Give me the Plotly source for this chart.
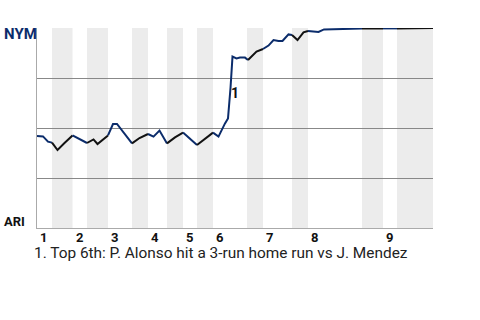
import plotly.graph_objects as go
import bisect

# Half-inning boundaries on the event axis (top halves even index, bottom halves odd)
half_bounds = [0, 3, 7.1, 10, 14.2, 19, 22.2, 26, 29.2, 32, 35.2, 42, 45.2, 51, 54.2, 65, 69.2, 72, 79.2]
inning_labels = ["1", "2", "3", "4", "5", "6", "7", "8", "9"]

# Win probability for NYM (%), event positions
event_x = [0, 1.2, 2.2, 3, 4.1, 5.5, 7.1, 8.5, 10, 11.3, 12.1, 14.2, 15.2, 16, 19,
           20.5, 22.2, 23.3, 24.5, 26, 27.6, 29.2, 30.6, 32, 33.3, 35.2, 36.3, 37.6,
           38.2, 38.7, 39.1, 39.9, 40.6, 41.6, 42.2, 43.9, 45.2, 46.3, 47.3, 48.3,
           49.1, 50.3, 51, 52.1, 53.3, 54.2, 56.3, 57.4, 59.9, 65, 69.2, 72, 74.6,
           75.9, 76.6, 79.2]
nym_wp = [46, 45.8, 43.2, 42.7, 39, 42.5, 46.3, 44.5, 42.5, 44.3, 42, 46.3, 52, 52, 42.3,
          45, 47, 45.7, 48.7, 42.3, 45.3, 47.7, 44.8, 41.5, 44, 47.7, 45.7, 52.3,
          54.8, 70, 85.7, 84.8, 85.2, 85.2, 84, 88.2, 89.5, 91.2, 94, 93.5,
          93.5, 96.8, 96.5, 94, 97.8, 98.5, 98, 99.3, 99.5, 99.7, 99.8, 99.8, 99.9,
          100, 99.9, 100]

note_x, note_y, note_text = 39.6, 67.4, "1"
footer = "1. Top 6th: P. Alonso hit a 3-run home run vs J. Mendez"

NAVY = "#0b2c6b"
BLACK = "#111111"

fig = go.Figure()

# shaded bottom halves
for i in range(1, len(half_bounds) - 1, 2):
    fig.add_shape(type="rect", xref="x", yref="paper", x0=half_bounds[i], x1=half_bounds[i + 1],
                  y0=0, y1=1, fillcolor="#ececec", line_width=0, layer="below")

# group segments by half-inning color
def seg_color(i):
    mid = (event_x[i] + event_x[i + 1]) / 2
    h = bisect.bisect_right(half_bounds, mid) - 1
    return NAVY if h % 2 == 0 else BLACK

runs = []
cur_color = None
for i in range(len(event_x) - 1):
    c = seg_color(i)
    if c != cur_color:
        runs.append((c, [i]))
        cur_color = c
    runs[-1][1].append(i + 1)

for c, idx in runs:
    fig.add_trace(go.Scatter(x=[event_x[k] for k in idx], y=[nym_wp[k] for k in idx],
                             mode="lines", line=dict(color=c, width=2), hoverinfo="skip",
                             showlegend=False, cliponaxis=False))

annotations = []
for j, lab in enumerate(inning_labels):
    annotations.append(dict(x=half_bounds[2 * j], y=0, xref="x", yref="paper", text=lab,
                            showarrow=False, xanchor="left", yanchor="middle", xshift=1, yshift=-9,
                            font=dict(family="Roboto", size=13, color="#111111", weight="bold")))
annotations.append(dict(x=note_x, y=note_y, xref="x", yref="y", text=note_text, showarrow=False,
                        xanchor="center", yanchor="middle",
                        font=dict(family="Roboto", size=14, color="#111111", weight="bold")))
annotations.append(dict(x=0, y=1, xref="paper", yref="paper", text="NYM", showarrow=False,
                        xanchor="left", yanchor="middle", xshift=-35, yshift=-6,
                        font=dict(family="Roboto", size=15, color=NAVY, weight="bold")))
annotations.append(dict(x=0, y=0, xref="paper", yref="paper", text="ARI", showarrow=False,
                        xanchor="left", yanchor="middle", xshift=-35, yshift=7,
                        font=dict(family="Roboto", size=13, color="#111111", weight="bold")))
annotations.append(dict(x=0, y=0, xref="paper", yref="paper", text=footer, showarrow=False,
                        xanchor="left", yanchor="middle", xshift=-5, yshift=-25,
                        font=dict(family="Roboto", size=15.4, color="#222222")))

fig.update_layout(
    width=480, height=320,
    margin=dict(l=37, r=47, t=28, b=92),
    paper_bgcolor="white", plot_bgcolor="white",
    xaxis=dict(range=[0, 79.2], showgrid=False, zeroline=False, showticklabels=False,
               showline=True, linecolor="#aaaaaa", linewidth=1, ticks=""),
    yaxis=dict(range=[0, 100], tickvals=[0, 25, 50, 75, 100], showticklabels=False,
               showgrid=True, gridcolor="#888888", gridwidth=1, zeroline=False,
               showline=True, linecolor="#aaaaaa", linewidth=1, ticks=""),
    annotations=annotations,
    showlegend=False,
)

fig.write_html("out.html")
